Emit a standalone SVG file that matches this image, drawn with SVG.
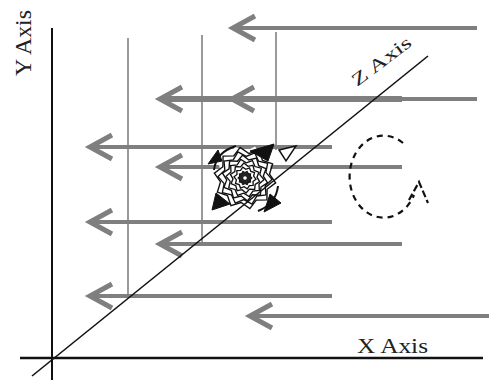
<svg xmlns="http://www.w3.org/2000/svg" xmlns:xlink="http://www.w3.org/1999/xlink" width="489" height="381" viewBox="0 0 489 381">
  <style>
    .guide { stroke: #9a9a9a; stroke-width: 2; fill: none; }
    .flow { stroke: #7f7f7f; stroke-width: 4; fill: none; marker-end: url(#chev); }
    .flow-heavy { stroke: #7f7f7f; stroke-width: 6; fill: none; marker-end: url(#chev); }
    .axis { stroke: #111; fill: none; }
    .ring { fill: none; stroke: #111; }
    .wedge { fill: #111; stroke: #111; stroke-width: 1; }
    .label { font-family: "Liberation Serif", "Times New Roman", serif; fill: #222; }
  </style>
  <defs>
    <marker id="chev" markerUnits="userSpaceOnUse" viewBox="-26 -16 30 32" refX="0" refY="0" markerWidth="30" markerHeight="32" orient="auto" overflow="visible">
      <path d="M-22,-12 L0,0 L-22,12" fill="none" stroke="#7f7f7f" stroke-width="5" stroke-linejoin="miter"/>
    </marker>
    <!-- unit ten-point jagged star, scaled per ring -->
    <polygon id="star" points="1,0 .761,.247 .809,.588 .47,.647 .309,.951 0,.8 -.309,.951 -.47,.647 -.809,.588 -.761,.247 -1,0 -.761,-.247 -.809,-.588 -.47,-.647 -.309,-.951 0,-.8 .309,-.951 .47,-.647 .809,-.588 .761,-.247"/>
  </defs>

  <!-- thin vertical guide lines -->
  <g id="guides">
    <line class="guide" x1="128" y1="38" x2="128" y2="296"/>
    <line class="guide" x1="202" y1="35" x2="202" y2="243"/>
    <line class="guide" x1="276" y1="32" x2="276" y2="150"/>
  </g>

  <!-- horizontal flow arrows -->
  <g id="connectors">
    <path class="flow" d="M477,28 L233,28"/>
    <path class="flow" d="M477,99 L232,99"/>
    <path class="flow-heavy" d="M402,99 L160,99"/>
    <path class="flow" d="M332,147 L90,147"/>
    <path class="flow" d="M402,167 L160,167"/>
    <path class="flow" d="M332,222 L90,222"/>
    <path class="flow" d="M402,244 L160,244"/>
    <path class="flow" d="M332,296 L90,296"/>
    <path class="flow" d="M489,316 L250,316"/>
  </g>

  <!-- vortex at the centre -->
  <g id="vortex">
    <use xlink:href="#star" transform="translate(245,178) scale(33)" fill="#fff" stroke="none"/>
    <use xlink:href="#star" class="ring" transform="translate(245,178) rotate(9) scale(31)" stroke-width="0.045"/>
    <use xlink:href="#star" class="ring" transform="translate(245,178) rotate(3) scale(27)" stroke-width="0.05"/>
    <use xlink:href="#star" class="ring" transform="translate(245,178) rotate(12) scale(23)" stroke-width="0.06"/>
    <use xlink:href="#star" class="ring" transform="translate(245,178) rotate(5) scale(19)" stroke-width="0.07"/>
    <use xlink:href="#star" class="ring" transform="translate(245,178) rotate(14) scale(15)" stroke-width="0.09"/>
    <use xlink:href="#star" class="ring" transform="translate(245,178) rotate(6) scale(11)" stroke-width="0.12"/>
    <use xlink:href="#star" transform="translate(245,178) scale(7)" fill="#222" stroke="#111" stroke-width="0.15"/>
    <circle cx="245" cy="178" r="1.8" fill="#fff"/>
    <path d="M214,170 Q216,152 236,146" fill="none" stroke="#111" stroke-width="2"/>
    <path d="M278,186 Q276,204 258,211" fill="none" stroke="#111" stroke-width="2"/>
    <polygon class="wedge" points="208,164 218,150 222,161"/>
    <polygon class="wedge" points="250,151 274,144 268,161"/>
    <polygon points="279,150 296,146 286,161" fill="#fff" stroke="#111" stroke-width="1.5"/>
    <polygon class="wedge" points="212,210 216,193 230,204"/>
    <polygon class="wedge" points="264,212 270,194 281,203"/>
  </g>

  <!-- dashed rotation arrow -->
  <g id="rotation">
    <path d="M403,143 A34 41 0 1 0 414,195" fill="none" stroke="#111" stroke-width="2.2" stroke-dasharray="6 5"/>
    <polyline points="409,200 419,182 428,203" fill="none" stroke="#111" stroke-width="2.2" stroke-dasharray="7 3"/>
  </g>

  <!-- axes -->
  <g id="axes">
    <line class="axis" x1="52" y1="28" x2="52" y2="380" stroke-width="2"/>
    <line class="axis" x1="20" y1="358" x2="483" y2="358" stroke-width="2.5" stroke="#333"/>
    <line class="axis" x1="32" y1="376" x2="428" y2="56" stroke-width="1.6"/>
  </g>

  <!-- axis labels -->
  <g id="labels">
    <text class="label" transform="translate(31,76) rotate(-90)" font-size="23" textLength="66" lengthAdjust="spacingAndGlyphs">Y Axis</text>
    <text class="label" x="357" y="353" font-size="21" textLength="71" lengthAdjust="spacingAndGlyphs">X Axis</text>
    <text class="label" transform="translate(357,87) rotate(-37)" font-size="18" fill="#444" textLength="70" lengthAdjust="spacingAndGlyphs">Z Axis</text>
  </g>
</svg>
